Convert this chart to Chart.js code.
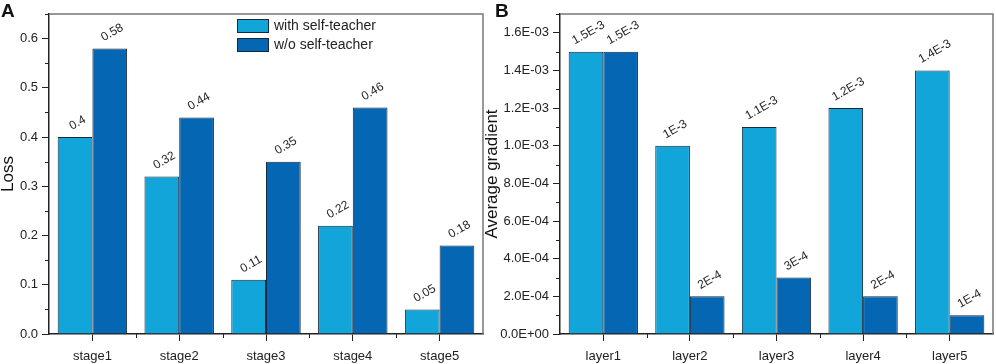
<!DOCTYPE html>
<html>
<head>
<meta charset="utf-8">
<script src="https://cdn.jsdelivr.net/npm/chart.js@4.4.1/dist/chart.umd.min.js"></script>
<style>
    body { margin: 0; background: #fff; }
    #wrap { position: relative; width: 996px; height: 364px; overflow: hidden; }
    canvas { position: absolute; top: 0; }
    .panel-tag { position: absolute; top: 1px; font: bold 19px "Liberation Sans", Arial, sans-serif; line-height: 19px; color: #111; }
</style>
</head>
<body>
<div id="wrap">
    <canvas id="lossChart" width="484" height="364" style="left:0"></canvas>
    <canvas id="gradChart" width="512" height="364" style="left:484px"></canvas>
    <div class="panel-tag" style="left:1px">A</div>
    <div class="panel-tag" style="left:495px">B</div>
</div>
<script>
// panel A - loss per stage
const stageLabels = ["stage1", "stage2", "stage3", "stage4", "stage5"];
const lossWithTeacher = [0.4, 0.32, 0.11, 0.22, 0.05];
const lossWithoutTeacher = [0.58, 0.44, 0.35, 0.46, 0.18];
const lossTickValues = [0, 0.1, 0.2, 0.3, 0.4, 0.5, 0.6];
const lossTickLabels = ["0.0", "0.1", "0.2", "0.3", "0.4", "0.5", "0.6"];
const lossValueTextWith = ["0.4", "0.32", "0.11", "0.22", "0.05"];
const lossValueTextWithout = ["0.58", "0.44", "0.35", "0.46", "0.18"];

// panel B - average gradient per layer
const layerLabels = ["layer1", "layer2", "layer3", "layer4", "layer5"];
const gradWithTeacher = [1.5e-3, 1.0e-3, 1.1e-3, 1.2e-3, 1.4e-3];
const gradWithoutTeacher = [1.5e-3, 2e-4, 3e-4, 2e-4, 1e-4];
const gradTickValues = [0, 2e-4, 4e-4, 6e-4, 8e-4, 1.0e-3, 1.2e-3, 1.4e-3, 1.6e-3];
const gradTickLabels = ["0.0E+00", "2.0E-04", "4.0E-04", "6.0E-04", "8.0E-04", "1.0E-03", "1.2E-03", "1.4E-03", "1.6E-03"];
const gradValueTextWith = ["1.5E-3", "1E-3", "1.1E-3", "1.2E-3", "1.4E-3"];
const gradValueTextWithout = ["1.5E-3", "2E-4", "3E-4", "2E-4", "1E-4"];

const seriesNames = ["with self-teacher", "w/o self-teacher"];

const FONT = '"Liberation Sans", Arial, sans-serif';
const LIGHT = "#12a5da";
const DARK = "#0566b3";
const EDGE = "#17293a";
const AXIS = "#222";

Chart.defaults.font.family = FONT;
Chart.defaults.color = "#222";

// frame, minor ticks, rotated value labels and the inner legend
const decorPlugin = {
    id: "decor",
    afterDraw(chart, args, opts) {
        const ctx = chart.ctx;
        const area = chart.chartArea;
        const x = chart.scales.x;
        const y = chart.scales.y;

        ctx.save();
        // top and right frame lines
        ctx.strokeStyle = "#777";
        ctx.lineWidth = 1.5;
        ctx.beginPath();
        ctx.moveTo(area.left, area.top);
        ctx.lineTo(area.right, area.top);
        ctx.lineTo(area.right, area.bottom);
        ctx.stroke();

        // minor ticks
        ctx.strokeStyle = AXIS;
        ctx.lineWidth = 1;
        const vals = opts.ticks;
        const step = vals[1] - vals[0];
        for (let i = 0; i < vals.length; i++) {
            const v = vals[i] + step / 2;
            if (v > y.max + 1e-12) break;
            const py = Math.round(y.getPixelForValue(v)) + 0.5;
            ctx.beginPath();
            ctx.moveTo(area.left - 4, py);
            ctx.lineTo(area.left, py);
            ctx.stroke();
        }
        for (let i = 0; i < chart.data.labels.length - 1; i++) {
            const px = Math.round(x.getPixelForValue(i + 0.5)) + 0.5;
            ctx.beginPath();
            ctx.moveTo(px, area.bottom);
            ctx.lineTo(px, area.bottom + 4);
            ctx.stroke();
        }

        // value labels, tilted
        ctx.font = "12px " + FONT;
        ctx.fillStyle = "#222";
        ctx.textAlign = "center";
        ctx.textBaseline = "middle";
        chart.data.datasets.forEach((ds, di) => {
            const meta = chart.getDatasetMeta(di);
            meta.data.forEach((bar, j) => {
                const text = opts.valueText[di][j];
                const w = ctx.measureText(text).width;
                ctx.save();
                ctx.translate(bar.x + 2.5, bar.y - 10 - w / 4);
                ctx.rotate(-Math.PI / 6);
                ctx.fillText(text, 0, 0);
                ctx.restore();
            });
        });

        // legend inside the plot
        if (opts.legend) {
            ctx.font = "14px " + FONT;
            ctx.textAlign = "left";
            chart.data.datasets.forEach((ds, di) => {
                const by = 19 + di * 19;
                ctx.fillStyle = ds.backgroundColor;
                ctx.fillRect(237, by, 32, 14);
                ctx.strokeStyle = EDGE;
                ctx.strokeRect(237.5, by + 0.5, 31, 13);
                ctx.fillStyle = "#222";
                ctx.fillText(ds.label, 274, by + 7.5);
            });
        }
        ctx.restore();
    }
};

function buildChart(canvasId, cfg) {
    const ctx = document.getElementById(canvasId).getContext("2d");
    return new Chart(ctx, {
        type: "bar",
        data: {
            labels: cfg.labels,
            datasets: [{
                label: seriesNames[0],
                data: cfg.withData,
                backgroundColor: LIGHT,
                borderColor: EDGE,
                borderWidth: 1,
                categoryPercentage: 0.8,
                barPercentage: 1.0
            }, {
                label: seriesNames[1],
                data: cfg.withoutData,
                backgroundColor: DARK,
                borderColor: EDGE,
                borderWidth: 1,
                categoryPercentage: 0.8,
                barPercentage: 1.0
            }]
        },
        options: {
            responsive: false,
            animation: false,
            devicePixelRatio: 1,
            layout: { padding: { top: 14, right: cfg.padRight, left: 0, bottom: 0 } },
            plugins: {
                legend: { display: false },
                tooltip: { enabled: false },
                decor: { ticks: cfg.tickValues, valueText: cfg.valueText, legend: cfg.showLegend }
            },
            scales: {
                x: {
                    grid: { offset: false, drawOnChartArea: false, tickLength: 7, color: AXIS },
                    border: { color: AXIS, width: 1.5 },
                    ticks: { font: { size: 13 }, padding: 8, color: "#222" },
                    afterFit: s => { s.height = 30; }
                },
                y: {
                    min: 0,
                    max: cfg.max,
                    grid: { drawOnChartArea: false, tickLength: 7, color: AXIS },
                    border: { color: AXIS, width: 1.5 },
                    ticks: {
                        font: { size: 13 },
                        padding: 4,
                        color: "#222",
                        callback: (v, i) => cfg.tickLabels[i]
                    },
                    afterBuildTicks: s => { s.ticks = cfg.tickValues.map(v => ({ value: v })); },
                    title: {
                        display: true,
                        text: cfg.title,
                        font: { size: 17, lineHeight: 1 },
                        padding: { top: 0, bottom: 0 },
                        color: "#111"
                    },
                    afterFit: s => { s.width = cfg.axisWidth; }
                }
            }
        },
        plugins: [decorPlugin]
    });
}

document.addEventListener("DOMContentLoaded", function () {
    buildChart("lossChart", {
        labels: stageLabels,
        withData: lossWithTeacher,
        withoutData: lossWithoutTeacher,
        tickValues: lossTickValues,
        tickLabels: lossTickLabels,
        valueText: [lossValueTextWith, lossValueTextWithout],
        max: 0.65,
        title: "Loss",
        axisWidth: 49,
        padRight: 1,
        showLegend: true
    });

    buildChart("gradChart", {
        labels: layerLabels,
        withData: gradWithTeacher,
        withoutData: gradWithoutTeacher,
        tickValues: gradTickValues,
        tickLabels: gradTickLabels,
        valueText: [gradValueTextWith, gradValueTextWithout],
        max: 1.7e-3,
        title: "Average gradient",
        axisWidth: 76,
        padRight: 3,
        showLegend: false
    });
});
</script>
</body>
</html>
